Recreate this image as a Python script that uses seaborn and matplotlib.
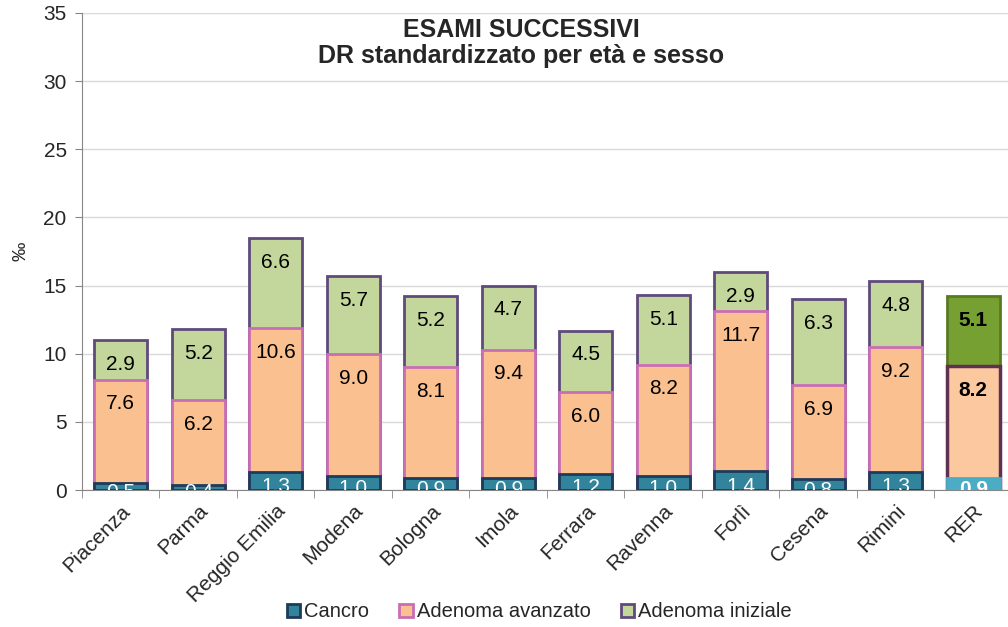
import pandas as pd
import matplotlib.pyplot as plt
import seaborn as sns
from matplotlib.patches import Patch
from matplotlib.ticker import FixedLocator

# --- dati ---
aree = ['Piacenza', 'Parma', 'Reggio Emilia', 'Modena', 'Bologna', 'Imola',
        'Ferrara', 'Ravenna', 'Forlì', 'Cesena', 'Rimini', 'RER']
cancro = [0.5, 0.4, 1.3, 1.0, 0.9, 0.9, 1.2, 1.0, 1.4, 0.8, 1.3, 0.9]
avanzato = [7.6, 6.2, 10.6, 9.0, 8.1, 9.4, 6.0, 8.2, 11.7, 6.9, 9.2, 8.2]
iniziale = [2.9, 5.2, 6.6, 5.7, 5.2, 4.7, 4.5, 5.1, 2.9, 6.3, 4.8, 5.1]
y_ticks = [0, 5, 10, 15, 20, 25, 30, 35]

df = pd.DataFrame({'Area': aree, 'Cancro': cancro,
                   'Avanzato': avanzato, 'Iniziale': iniziale})
df['cum1'] = df['Cancro']
df['cum2'] = df['Cancro'] + df['Avanzato']
df['cum3'] = df['cum2'] + df['Iniziale']

sns.set_style('white')
plt.rcParams['font.family'] = ['Liberation Sans', 'DejaVu Sans']

fig = plt.figure(figsize=(10.08, 6.27), dpi=100)
ax = fig.add_axes([0.0813, 0.2185, 0.9226, 0.7608])

W = 0.68
# barre cumulative sovrapposte (dalla più alta alla più bassa)
sns.barplot(data=df, x='Area', y='cum3', color='#C3D69B', width=W,
            edgecolor='#604A7B', linewidth=2, saturation=1, ax=ax, zorder=2)
sns.barplot(data=df, x='Area', y='cum2', color='#FAC090', width=W,
            edgecolor='#C86EB4', linewidth=2, saturation=1, ax=ax, zorder=3)
sns.barplot(data=df, x='Area', y='cum1', color='#31849B', width=W,
            edgecolor='#1F3B5A', linewidth=2, saturation=1, ax=ax, zorder=4)

# stile speciale per la barra RER
n = len(aree)
p_ini, p_av, p_ca = ax.patches[n - 1], ax.patches[2 * n - 1], ax.patches[3 * n - 1]
p_ini.set_facecolor('#77A032'); p_ini.set_edgecolor('#5A7A22')
p_av.set_facecolor('#FCC8A0'); p_av.set_edgecolor('#5F3050'); p_av.set_linewidth(2.5)
p_ca.set_facecolor('#4BACC6'); p_ca.set_edgecolor('#4BACC6')

# etichette dei valori (in stile Excel: vicino alla cima del segmento)
FS = 15
for i in range(n):
    bold = 'bold' if aree[i] == 'RER' else 'normal'
    ax.annotate(f'{cancro[i]:.1f}', (i, df['cum1'][i] / 2),
                xytext=(0, -4), textcoords='offset points',
                ha='center', va='center', color='white', fontsize=FS,
                fontweight=bold, annotation_clip=False, clip_on=True, zorder=6)
    ax.annotate(f'{avanzato[i]:.1f}', (i, df['cum2'][i]),
                xytext=(0, -17.5), textcoords='offset points',
                ha='center', va='center', color='black', fontsize=FS,
                fontweight=bold, zorder=6)
    ax.annotate(f'{iniziale[i]:.1f}', (i, df['cum3'][i]),
                xytext=(0, -17.5), textcoords='offset points',
                ha='center', va='center', color='black', fontsize=FS,
                fontweight=bold, zorder=6)

ax.set_xlim(-0.5, n - 0.5)
ax.set_ylim(0, 35)
ax.set_yticks(y_ticks)
ax.yaxis.grid(True, color='#D9D9D9', linewidth=1)
ax.set_axisbelow(True)

for s in ['top', 'right']:
    ax.spines[s].set_visible(False)
ax.spines['left'].set_color('#868686')
ax.spines['bottom'].set_color('#868686')

ax.set_xlabel('')
ax.set_ylabel('‰', fontsize=14, labelpad=10)
ax.tick_params(axis='y', labelsize=15, length=5, color='#868686', left=True,
               direction='out', pad=6)
ax.tick_params(axis='x', which='major', length=0, labelsize=15, pad=8)
ax.xaxis.set_minor_locator(FixedLocator([i + 0.5 for i in range(-1, n)]))
ax.tick_params(axis='x', which='minor', length=6, color='#868686',
               bottom=True, direction='out')
plt.setp(ax.get_xticklabels(), rotation=45, ha='right', rotation_mode='anchor')

ax.text(0.472, 0.99, 'ESAMI SUCCESSIVI\nDR standardizzato per età e sesso',
        transform=ax.transAxes, ha='center', va='top', fontsize=18,
        fontweight='bold', linespacing=1.1)

handles = [Patch(facecolor='#31849B', edgecolor='#1F3B5A', linewidth=2, label='Cancro'),
           Patch(facecolor='#FAC090', edgecolor='#C86EB4', linewidth=2, label='Adenoma avanzato'),
           Patch(facecolor='#C3D69B', edgecolor='#604A7B', linewidth=2, label='Adenoma iniziale')]
fig.legend(handles=handles, loc='lower center', bbox_to_anchor=(0.535, -0.02),
           ncol=3, frameon=False, fontsize=14.5, handlelength=0.65,
           handleheight=0.65, handletextpad=0.2, columnspacing=1.5)

plt.savefig('out.png', dpi=100)
